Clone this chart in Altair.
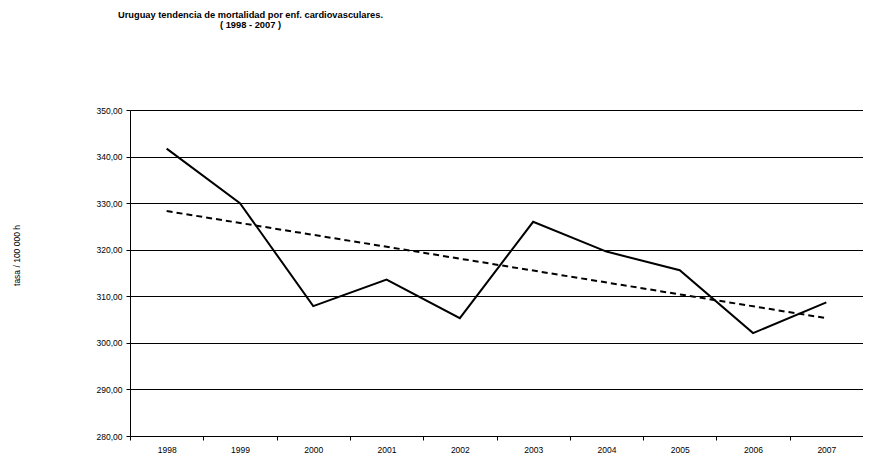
import altair as alt
import pandas as pd

years = ["1998", "1999", "2000", "2001", "2002", "2003", "2004", "2005", "2006", "2007"]
rates = [341.7, 330.0, 307.9, 313.6, 305.3, 326.0, 319.6, 315.6, 302.1, 308.7]
trend_years = ["1998", "2007"]
trend_vals = [328.3, 305.3]
y_ticks = [280, 290, 300, 310, 320, 330, 340, 350]

df = pd.DataFrame({"year": years, "rate": rates})
tdf = pd.DataFrame({"year": trend_years, "rate": trend_vals})

FONT = "Liberation Sans"

xenc = alt.X("year:N", sort=years, title=None,
             scale=alt.Scale(paddingInner=0, paddingOuter=0),
             axis=alt.Axis(labelAngle=0, labelFontSize=8.5, labelFont=FONT, labelColor="black",
                           domainColor="black", tickColor="black", tickSize=4, labelPadding=5,
                           grid=False, tickBand="extent"))
yenc = alt.Y("rate:Q", title="tasa / 100 000 h",
             scale=alt.Scale(domain=[280, 350], nice=False, zero=False),
             axis=alt.Axis(values=y_ticks, labelExpr="replace(format(datum.value, '.2f'), '.', ',')",
                           labelFontSize=8.5, labelFont=FONT, labelColor="black",
                           domainColor="black", tickColor="black", tickSize=4, labelPadding=4,
                           grid=True, gridColor="black", gridWidth=1, gridOpacity=1,
                           titleFontSize=8.5, titleFont=FONT, titleFontWeight="normal",
                           titleColor="black", titlePadding=75, titleY=145))

line = alt.Chart(df).mark_line(color="black", strokeWidth=2).encode(x=xenc, y=yenc)
trend = alt.Chart(tdf).mark_line(color="black", strokeWidth=2, strokeDash=[6, 4]).encode(x=xenc, y=yenc)

chart = alt.layer(line, trend).properties(
    width=733, height=326,
    autosize=alt.AutoSizeParams(type="none"),
    padding={"left": 122, "top": 102, "right": 0, "bottom": 25},
    title=alt.TitleParams(
        ["Uruguay tendencia de mortalidad por enf. cardiovasculares.", "( 1998 - 2007 )"],
        anchor="middle", frame="group", dx=-246, offset=76,
        fontSize=9.3, font=FONT, fontWeight="bold", color="black", lineHeight=10),
).configure_view(stroke=None).configure(background="white")

chart.save("out.html", embed_options={"renderer": "svg", "actions": False})
